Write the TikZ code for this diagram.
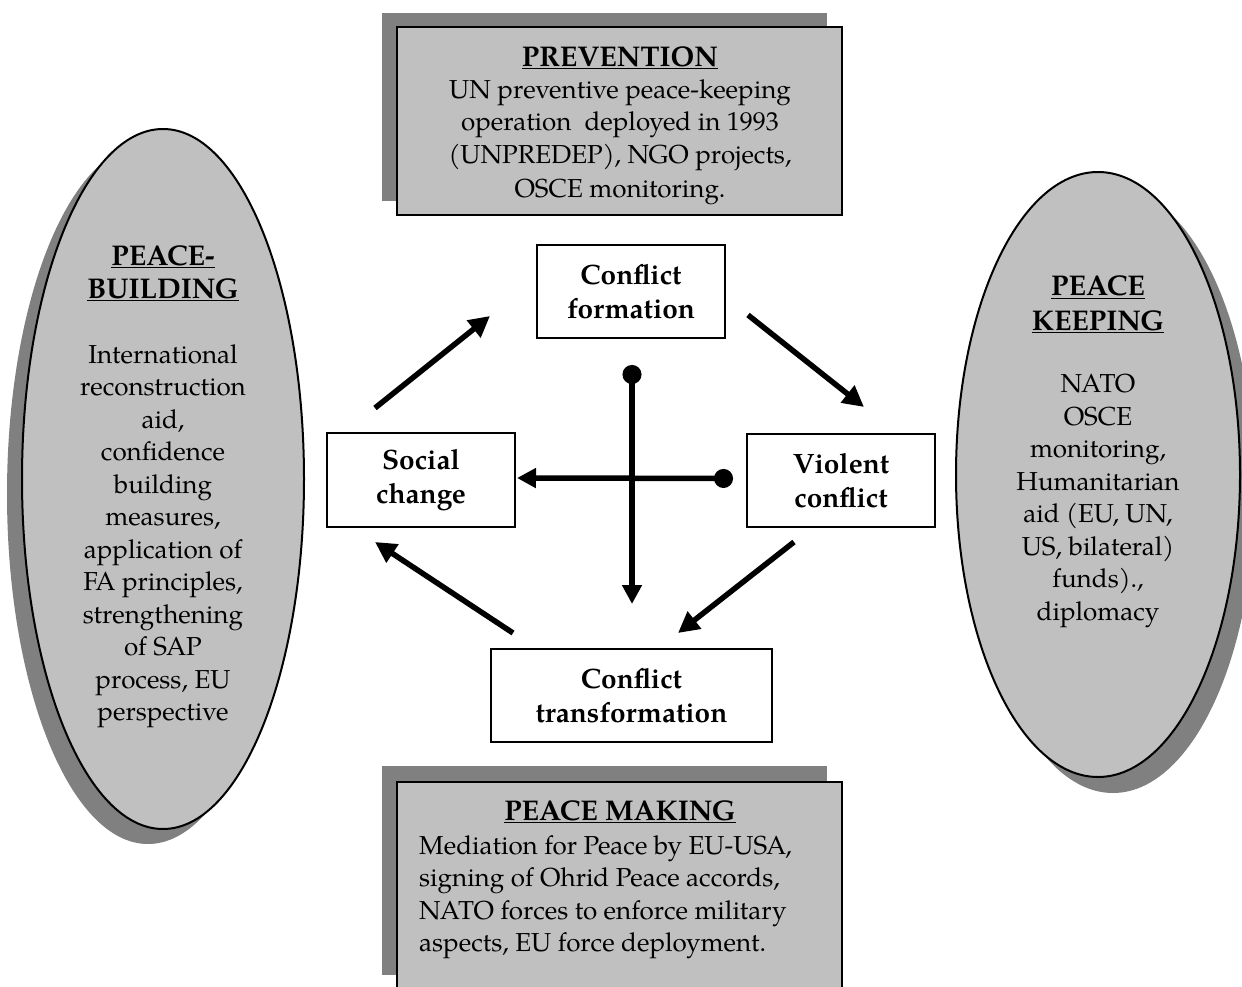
\documentclass[tikz,border=0pt]{standalone}
\usepackage{fontspec}
\setmainfont{TeX Gyre Pagella}
\usetikzlibrary{arrows.meta,shapes.geometric,shadows}
\definecolor{boxgray}{RGB}{192,192,192}
\definecolor{shadowgray}{RGB}{128,128,128}
\newcommand{\headfont}{\fontsize{28.5}{32.5}\selectfont\bfseries}
\begin{document}
\begin{tikzpicture}[x=1pt,y=-1pt,
  cbox/.style={draw, line width=2pt, fill=white, minimum width=188pt, minimum height=93pt,
    align=center, font=\fontsize{28}{34}\selectfont\bfseries, inner sep=0pt},
  infobox/.style={draw, line width=2.5pt, fill=boxgray, inner sep=0pt},
  oval/.style={ellipse, draw, line width=2pt, fill=boxgray, inner sep=0pt},
  infotext/.style={align=center, font=\fontsize{26}{32.5}\selectfont, inner sep=0pt},
  flow/.style={line width=5.5pt, -{Triangle[length=21pt,width=21pt]}},
  dotflow/.style={line width=5.5pt, {Circle[length=19pt]}-{Triangle[length=19pt,width=19pt]}}
]
\useasboundingbox (0,0) rectangle (1242,987);
\clip (0,0) rectangle (1242,987);

% info boxes
\node[infobox, minimum width=445pt, minimum height=188pt,
  drop shadow={shadow xshift=-15pt, shadow yshift=14pt, fill=shadowgray, opacity=1}]
  (prevbox) at (619.5,121) {};
\node[infotext] (prevtext) at (620,126)
  {{\headfont\underline{PREVENTION}}\\[-0.5pt]
   UN preventive peace-keeping\\
   operation\ \ deployed in 1993\\
   (UNPREDEP), NGO projects,\\[2pt]
   OSCE monitoring.};

\node[infobox, minimum width=445pt, minimum height=209pt,
  drop shadow={shadow xshift=-15pt, shadow yshift=16pt, fill=shadowgray, opacity=1}]
  (makebox) at (619.5,886.5) {};
\node[infotext, anchor=base] (maketitle) at (620,820) {{\headfont\underline{PEACE MAKING}}};
\node[infotext, align=left, anchor=north west] (maketext) at (419,835)
  {Mediation for Peace by EU-USA,\\
   signing of Ohrid Peace accords,\\
   NATO forces to enforce military\\
   aspects, EU force deployment.};

% ellipses
\node[oval, minimum width=282pt, minimum height=700pt,
  drop shadow={shadow xshift=-15pt, shadow yshift=-15pt, fill=shadowgray, opacity=1}]
  (buildoval) at (163,479) {};
\node[infotext] (buildtext) at (163,487)
  {{\headfont\underline{PEACE-}}\\{\headfont\underline{BUILDING}}\\[32.5pt]
   International\\reconstruction\\aid,\\confidence\\building\\measures,\\
   application of\\FA principles,\\strengthening\\of SAP\\process, EU\\perspective};

\node[oval, minimum width=284pt, minimum height=605pt,
  drop shadow={shadow xshift=15pt, shadow yshift=-16pt, fill=shadowgray, opacity=1}]
  (keepoval) at (1098,474.5) {};
\node[infotext] (keeptext) at (1098,452)
  {{\headfont\underline{PEACE}}\\[2pt]{\headfont\underline{KEEPING}}\\[30pt]
   NATO\\OSCE\\monitoring,\\Humanitarian\\aid (EU, UN,\\US, bilateral)\\funds).,\\diplomacy};

% cycle boxes
\node[cbox] (cf) at (631,291.5) {Conflict\\formation};
\node[cbox, minimum height=94pt] (sc) at (421,480) {Social\\change};
\node[cbox] (vc) at (841,480.5) {Violent\\conflict};
\node[cbox, minimum width=281pt] (ct) at (631.5,695.5) {Conflict\\transformation};

% diagonal arrows
\coordinate (a1s) at (375,408); \coordinate (a1e) at (490,316);
\coordinate (a2s) at (748,315); \coordinate (a2e) at (864,407);
\coordinate (a3s) at (794,542); \coordinate (a3e) at (678,633);
\coordinate (a4s) at (513,633); \coordinate (a4e) at (375,542);
\draw[flow] (a1s) -- (a1e);
\draw[flow] (a2s) -- (a2e);
\draw[flow] (a3s) -- (a3e);
\draw[flow] (a4s) -- (a4e);

% cross
\draw[dotflow, shorten <=26pt, shorten >=44pt] ([xshift=1pt]cf.south) -- ([xshift=0.5pt]ct.north);
\draw[dotflow, shorten <=13pt, shorten >=1pt] ([yshift=2pt]vc.west) -- ([yshift=2pt]sc.east);
\end{tikzpicture}
\end{document}
